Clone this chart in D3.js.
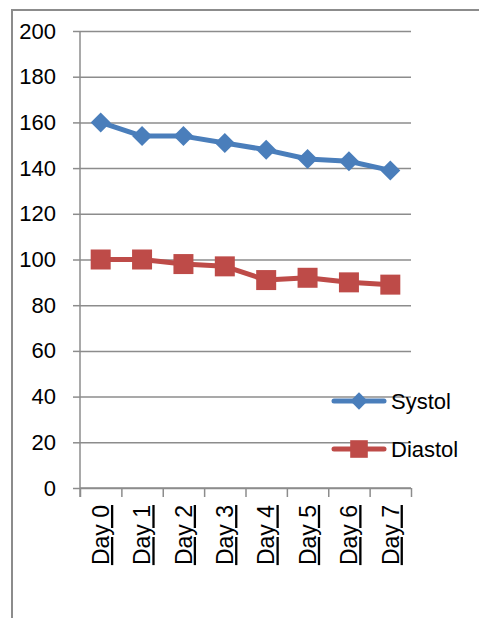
<!DOCTYPE html>
<html>
<head>
<meta charset="utf-8">
<script src="https://cdn.jsdelivr.net/npm/d3@7"></script>
<style>
    body { margin: 0; background: #fff; }
    text { font-family: "Liberation Sans", Arial, sans-serif; fill: #000; }
</style>
</head>
<body>
<div class="canvas"></div>
<script>
// data
const days = ["Day 0", "Day 1", "Day 2", "Day 3", "Day 4", "Day 5", "Day 6", "Day 7"]
const systol = [160, 154, 154, 151, 148, 144, 143, 139]
const diastol = [100, 100, 98, 97, 91, 92, 90, 89]
const yTicks = [0, 20, 40, 60, 80, 100, 120, 140, 160, 180, 200]

const series = [
    {name: "Systol", values: systol, color: "#4a7ebb", marker: "diamond"},
    {name: "Diastol", values: diastol, color: "#be4b48", marker: "square"}
]

/**
 * Graph dimensions
 */
const margin = {top: 31, right: 68, bottom: 130, left: 80}
const graphWidth = 479 - margin.left - margin.right
const graphHeight = 618 - margin.top - margin.bottom
const gridColor = "#8c8c8c"

const svg = d3.select(".canvas")
    .append("svg")
    .attr("width", 479)
    .attr("height", 618)

// outer chart frame (only top & left edges show in the crop)
svg.append("path")
    .attr("d", "M12,640 L12,10 L500,10")
    .attr("fill", "none")
    .attr("stroke", gridColor)
    .attr("stroke-width", 2)

const graph = svg.append("g")
    .attr("transform", `translate(${margin.left},${margin.top})`)

/**
 * Scales & axis
 */
const x = d3.scaleBand().domain(days).range([0, graphWidth])
const xb = d3.scaleLinear().domain([0, days.length]).range([0, graphWidth])
const y = d3.scaleLinear().domain([0, 200]).range([graphHeight, 0])

// gridlines
graph.append("g")
    .call(d3.axisLeft(y).tickValues(yTicks).tickSize(-graphWidth).tickFormat(""))
    .call(g => g.select(".domain").remove())
    .call(g => g.selectAll("line").attr("stroke", gridColor).attr("stroke-width", 1.5))

// y axis
graph.append("g")
    .call(d3.axisLeft(y).tickValues(yTicks).tickSize(7).tickPadding(17))
    .call(g => g.select(".domain").attr("d", `M0,${graphHeight + 9}V0`).attr("stroke", gridColor).attr("stroke-width", 1.5))
    .call(g => g.selectAll("line").attr("stroke", gridColor).attr("stroke-width", 1.5))
    .call(g => g.selectAll("text").style("font-size", "22px"))

// x axis (tick marks between categories)
graph.append("g")
    .attr("transform", `translate(0,${graphHeight})`)
    .call(d3.axisBottom(xb).ticks(days.length).tickSize(9).tickFormat(""))
    .call(g => g.select(".domain").attr("d", `M0,0H${graphWidth}`).attr("stroke", gridColor).attr("stroke-width", 1.5))
    .call(g => g.selectAll("line").attr("stroke", gridColor).attr("stroke-width", 1.5))

// rotated category labels
graph.selectAll(".xlabel")
    .data(days)
    .enter()
    .append("text")
        .attr("class", "xlabel")
        .attr("transform", d => `translate(${x(d) + x.bandwidth() / 2},${graphHeight + 17}) rotate(-90)`)
        .attr("text-anchor", "end")
        .attr("dy", "0.36em")
        .style("font-size", "23px")
        .style("text-decoration", "underline")
        .style("text-decoration-thickness", "2px")
        .text(d => d)

/**
 * Lines & markers
 */
const line = d3.line()
    .x((d, i) => x(days[i]) + x.bandwidth() / 2)
    .y(d => y(d))

// diamond = rotated square
const markerPath = size => d3.symbol(d3.symbolSquare, size)()

series.forEach(s => {
    graph.append("path")
        .datum(s.values)
        .attr("fill", "none")
        .attr("stroke", s.color)
        .attr("stroke-width", 5)
        .attr("stroke-linejoin", "round")
        .attr("d", line)

    graph.selectAll(".pt-" + s.name)
        .data(s.values)
        .enter()
        .append("path")
            .attr("class", "pt-" + s.name)
            .attr("d", markerPath(s.marker == "diamond" ? 200 : 400))
            .attr("transform", (d, i) => `translate(${x(days[i]) + x.bandwidth() / 2},${y(d)})` + (s.marker == "diamond" ? " rotate(45)" : ""))
            .attr("fill", s.color)
})

/**
 * Legend
 */
const legend = svg.selectAll(".legend")
    .data(series)
    .enter()
    .append("g")
        .attr("class", "legend")
        .attr("transform", (d, i) => `translate(332,${401 + i * 48})`)

legend.append("line")
    .attr("x1", 2).attr("x2", 52)
    .attr("stroke", d => d.color)
    .attr("stroke-width", 5)
    .attr("stroke-linecap", "round")

legend.append("path")
    .attr("d", d => markerPath(d.marker == "diamond" ? 150 : 310))
    .attr("transform", d => "translate(27,0)" + (d.marker == "diamond" ? " rotate(45)" : ""))
    .attr("fill", d => d.color)

legend.append("text")
    .attr("x", 59)
    .attr("dy", "0.36em")
    .style("font-size", "22px")
    .text(d => d.name)
</script>
</body>
</html>
